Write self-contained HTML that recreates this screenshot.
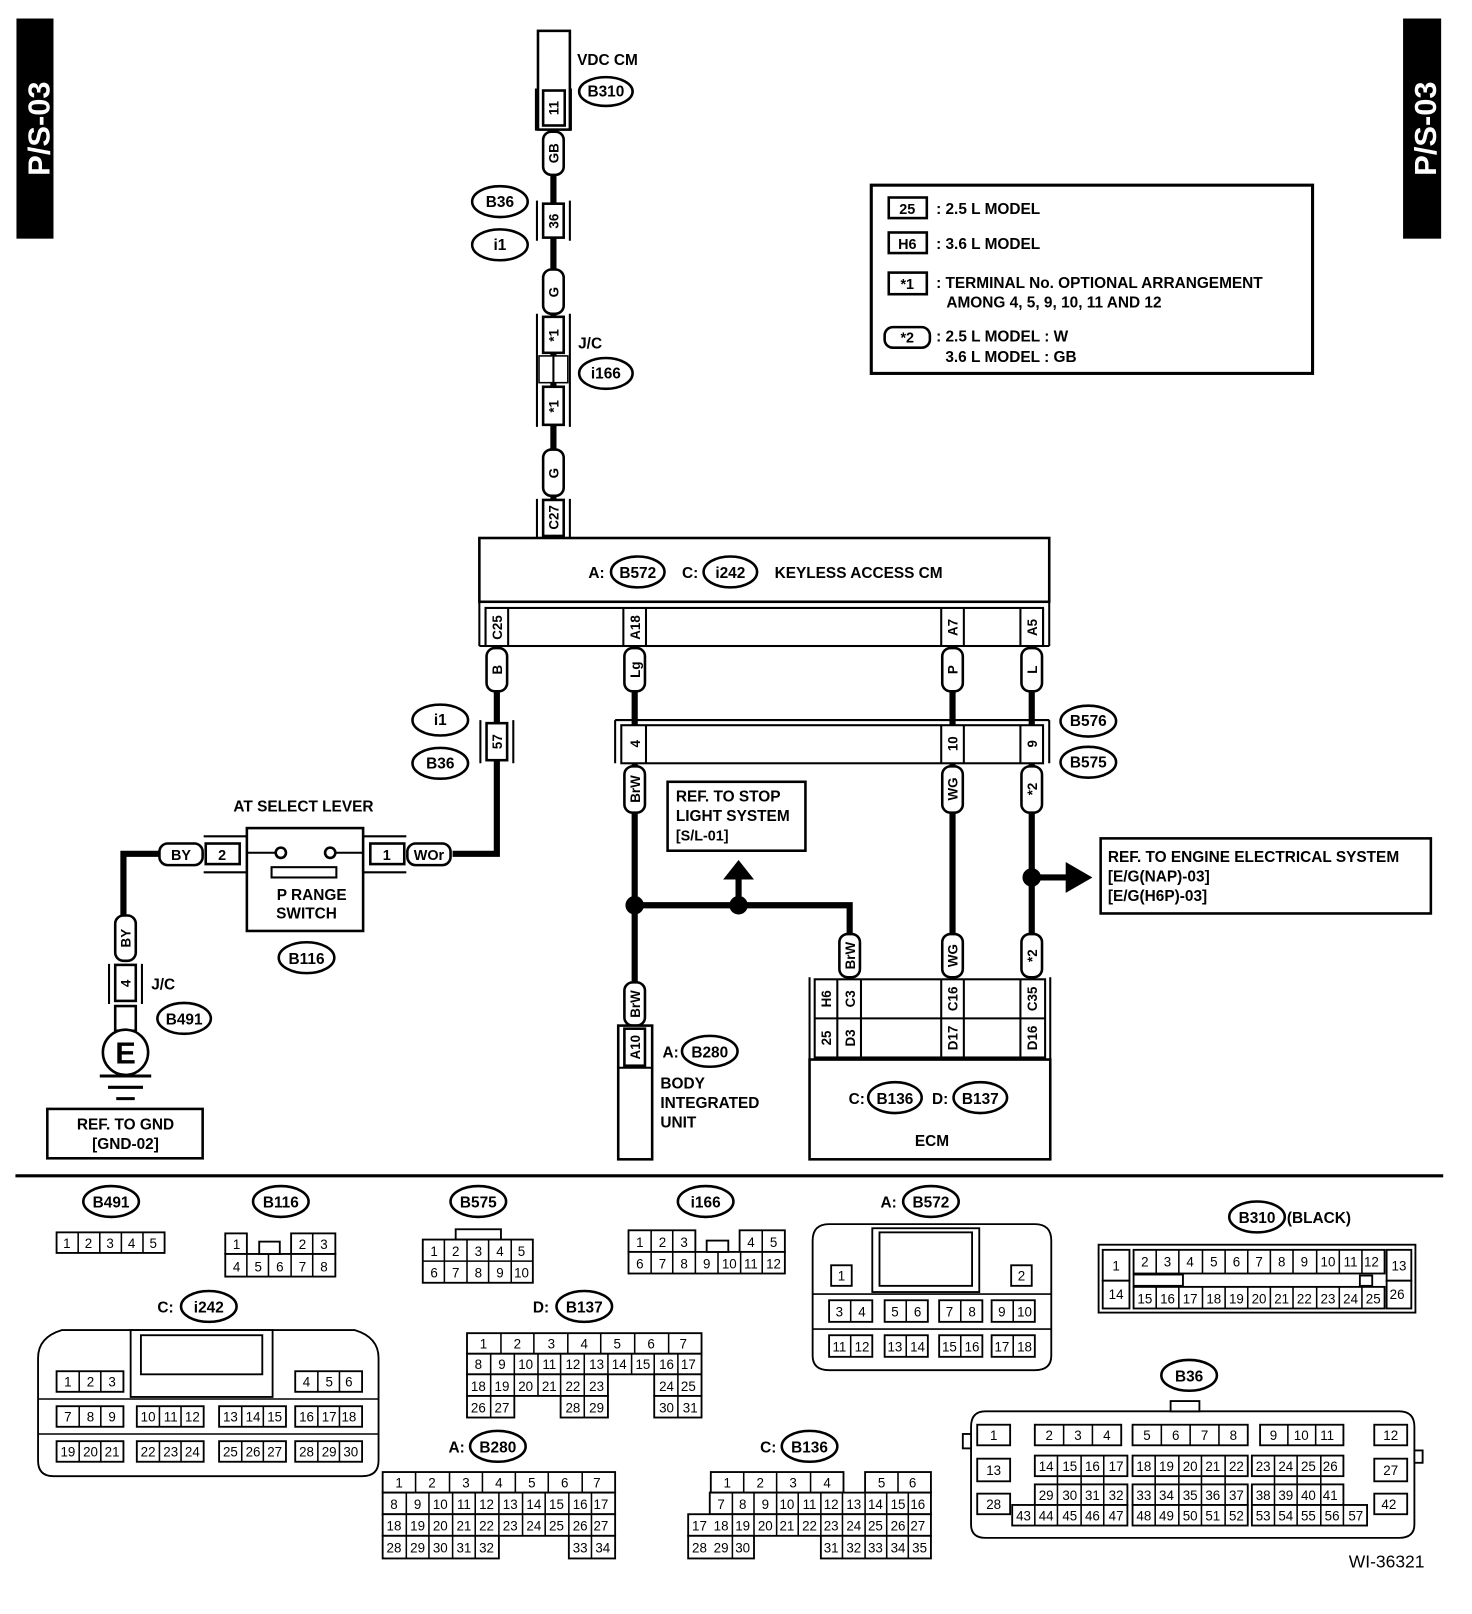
<!DOCTYPE html>
<html><head><meta charset="utf-8"><style>
html,body{margin:0;padding:0;background:#fff}
svg{display:block}
text{font-family:"Liberation Sans",sans-serif;font-weight:bold;fill:#000}
.n{font-family:"Liberation Sans Narrow","Liberation Sans",sans-serif;font-weight:normal;font-size:13px;text-anchor:middle}
.l{font-size:15px}
.c{text-anchor:middle}
.w{stroke:#000;stroke-width:6;fill:none}
.b{stroke:#000;stroke-width:2.5;fill:#fff}
.t{stroke:#000;stroke-width:2;fill:none}
</style></head><body>
<svg width="1472" height="1614" viewBox="0 0 1431 1569" preserveAspectRatio="none" xmlns="http://www.w3.org/2000/svg">
<!-- side bars -->
<rect x="16" y="18" width="36" height="214" fill="#000"/>
<text transform="translate(48,125) rotate(-90)" class="c" style="font-size:30px;fill:#fff">P/S-03</text>
<rect x="1364" y="18" width="37" height="214" fill="#000"/>
<text transform="translate(1396,125) rotate(-90)" class="c" style="font-size:30px;fill:#fff">P/S-03</text>

<!-- main vertical wire -->
<path class="w" d="M538 130V523"/>
<rect class="b" x="523" y="30" width="31" height="96"/>
<path class="t" d="M521 86V127M555 86V127"/>
<rect class="b" x="528" y="88" width="21" height="34"/>
<text transform="translate(538,105) rotate(-90)" class="c" dy="5" style="font-size:13px">11</text>
<text x="561" y="63" class="l">VDC CM</text>
<ellipse class="b" cx="589" cy="89" rx="26" ry="14"/><text x="589" y="94" class="c l">B310</text>
<!-- tags -->
<g class="b"><rect x="528" y="128" width="20" height="42" rx="8"/><rect x="528" y="262" width="20" height="43" rx="8"/><rect x="528" y="437" width="20" height="45" rx="8"/></g>
<text transform="translate(538,149) rotate(-90)" class="c" dy="5" style="font-size:13px">GB</text>
<text transform="translate(538,284) rotate(-90)" class="c" dy="5" style="font-size:13px">G</text>
<text transform="translate(538,460) rotate(-90)" class="c" dy="5" style="font-size:13px">G</text>
<path class="t" d="M522 195V234M554 195V234"/><rect class="b" x="528" y="198" width="20" height="33"/>
<text transform="translate(538,215) rotate(-90)" class="c" dy="5" style="font-size:13px">36</text>
<ellipse class="b" cx="486" cy="196" rx="27" ry="15"/><text x="486" y="201" class="c l">B36</text>
<ellipse class="b" cx="486" cy="238" rx="27" ry="15"/><text x="486" y="243" class="c l">i1</text>
<path class="t" d="M522 305V415M554 305V415"/>
<rect class="b" x="528" y="308" width="20" height="35"/><rect class="b" x="528" y="376" width="20" height="37"/>
<rect class="b" x="524" y="346" width="28" height="26" style="stroke-width:1.5"/><path class="t" d="M538 346V372"/>
<text transform="translate(538,326) rotate(-90)" class="c" dy="5" style="font-size:13px">*1</text>
<text transform="translate(538,395) rotate(-90)" class="c" dy="5" style="font-size:13px">*1</text>
<text x="562" y="339" class="l">J/C</text>
<ellipse class="b" cx="589" cy="363" rx="26" ry="15"/><text x="589" y="368" class="c l">i166</text>
<path class="t" d="M522 485V523M554 485V523"/><rect class="b" x="528" y="486" width="20" height="35"/>
<text transform="translate(538,503) rotate(-90)" class="c" dy="5" style="font-size:13px">C27</text>

<!-- Keyless box -->
<rect class="b" x="466" y="523" width="554" height="62"/>
<text x="572" y="562" class="l">A:</text><ellipse class="b" cx="620" cy="556" rx="26" ry="15"/><text x="620" y="562" class="c l">B572</text>
<text x="663" y="562" class="l">C:</text><ellipse class="b" cx="710" cy="556" rx="26" ry="15"/><text x="710" y="562" class="c l">i242</text>
<text x="753" y="562" class="l">KEYLESS ACCESS CM</text>
<path class="t" d="M466 585V628M1020 585V628M466 628H1020"/>
<rect class="b" x="472" y="591" width="542" height="37" style="stroke-width:2"/>
<path class="t" d="M472 591V628M494 591V628M606 591V628M628 591V628M915 591V628M937 591V628M992 591V628M1014 591V628"/>
<text transform="translate(483,610) rotate(-90)" class="c" dy="5" style="font-size:13px">C25</text>
<text transform="translate(617,610) rotate(-90)" class="c" dy="5" style="font-size:13px">A18</text>
<text transform="translate(926,610) rotate(-90)" class="c" dy="5" style="font-size:13px">A7</text>
<text transform="translate(1003,610) rotate(-90)" class="c" dy="5" style="font-size:13px">A5</text>

<!-- wires under keyless -->
<path class="w" d="M483 672V830H440"/>
<path class="w" d="M617 672V1000"/>
<path class="w" d="M926 672V950"/>
<path class="w" d="M1003 672V950"/>
<path class="w" d="M617 880H826V910"/>
<path class="w" d="M718 880V850"/>
<path d="M703 855L718 836L733 855Z"/>
<path class="w" d="M1003 853H1040"/>
<path d="M1036 838L1062 853L1036 868Z"/>
<circle cx="617" cy="880" r="9"/><circle cx="718" cy="880" r="9"/><circle cx="1003" cy="853" r="9"/>
<g class="b"><rect x="473" y="630" width="20" height="42" rx="8"/><rect x="607" y="630" width="20" height="42" rx="8"/><rect x="916" y="630" width="20" height="42" rx="8"/><rect x="993" y="630" width="20" height="42" rx="8"/>
<rect x="607" y="745" width="20" height="45" rx="8"/><rect x="916" y="745" width="20" height="45" rx="8"/><rect x="993" y="745" width="20" height="45" rx="8"/>
<rect x="816" y="908" width="20" height="42" rx="8"/><rect x="916" y="908" width="20" height="42" rx="8"/><rect x="993" y="908" width="20" height="42" rx="8"/>
<rect x="607" y="955" width="20" height="42" rx="8"/></g>
<g style="font-size:13px">
<text transform="translate(483,651) rotate(-90)" class="c" dy="5">B</text>
<text transform="translate(617,651) rotate(-90)" class="c" dy="5">Lg</text>
<text transform="translate(926,651) rotate(-90)" class="c" dy="5">P</text>
<text transform="translate(1003,651) rotate(-90)" class="c" dy="5">L</text>
<text transform="translate(617,767) rotate(-90)" class="c" dy="5">BrW</text>
<text transform="translate(926,767) rotate(-90)" class="c" dy="5">WG</text>
<text transform="translate(1003,767) rotate(-90)" class="c" dy="5">*2</text>
<text transform="translate(826,929) rotate(-90)" class="c" dy="5">BrW</text>
<text transform="translate(926,929) rotate(-90)" class="c" dy="5">WG</text>
<text transform="translate(1003,929) rotate(-90)" class="c" dy="5">*2</text>
<text transform="translate(617,976) rotate(-90)" class="c" dy="5">BrW</text>
</g>
<!-- 57 connector -->
<path class="t" d="M467 700V742M499 700V742"/><rect class="b" x="473" y="703" width="20" height="36"/>
<text transform="translate(483,721) rotate(-90)" class="c" dy="5" style="font-size:13px">57</text>
<ellipse class="b" cx="428" cy="700" rx="27" ry="15"/><text x="428" y="705" class="c l">i1</text>
<ellipse class="b" cx="428" cy="742" rx="27" ry="15"/><text x="428" y="747" class="c l">B36</text>
<!-- B576/B575 -->
<path class="t" d="M598 700H1020M598 700V742M1020 700V742"/>
<rect class="b" x="604" y="705" width="410" height="37" style="stroke-width:2"/>
<path class="t" d="M628 705V742M915 705V742M937 705V742M992 705V742"/>
<text transform="translate(617,723) rotate(-90)" class="c" dy="5" style="font-size:13px">4</text>
<text transform="translate(926,723) rotate(-90)" class="c" dy="5" style="font-size:13px">10</text>
<text transform="translate(1003,723) rotate(-90)" class="c" dy="5" style="font-size:13px">9</text>
<ellipse class="b" cx="1058" cy="701" rx="27" ry="15"/><text x="1058" y="706" class="c l">B576</text>
<ellipse class="b" cx="1058" cy="741" rx="27" ry="15"/><text x="1058" y="746" class="c l">B575</text>
<!-- ref boxes -->
<rect class="b" x="649" y="760" width="134" height="67"/>
<text x="657" y="779" class="l">REF. TO STOP</text><text x="657" y="798" class="l">LIGHT SYSTEM</text><text x="657" y="817" class="l" style="font-size:14px">[S/L-01]</text>
<rect class="b" x="1070" y="815" width="321" height="73"/>
<text x="1077" y="838" class="l">REF. TO ENGINE ELECTRICAL SYSTEM</text><text x="1077" y="857" class="l">[E/G(NAP)-03]</text><text x="1077" y="876" class="l">[E/G(H6P)-03]</text>
<!-- body integrated unit -->
<rect class="b" x="601" y="997" width="33" height="130"/>
<rect class="b" x="607" y="1000" width="20" height="36"/><path class="t" d="M601 1038H634"/>
<text transform="translate(617,1018) rotate(-90)" class="c" dy="5" style="font-size:13px">A10</text>
<text x="644" y="1028" class="l">A:</text><ellipse class="b" cx="690" cy="1022" rx="27" ry="15"/><text x="690" y="1028" class="c l">B280</text>
<text x="642" y="1058" class="l">BODY</text><text x="642" y="1077" class="l">INTEGRATED</text><text x="642" y="1096" class="l">UNIT</text>
<!-- ECM -->
<rect class="b" x="787" y="1030" width="234" height="97"/>
<path class="t" d="M787 950V1030M1021 950V1030"/>
<rect class="b" x="792" y="952" width="224" height="76" style="stroke-width:2"/>
<path class="t" d="M792 990H1016M814 952V1028M837 952V1028M915 952V1028M937 952V1028M992 952V1028"/>
<g style="font-size:13px">
<text transform="translate(803,971) rotate(-90)" class="c" dy="5">H6</text>
<text transform="translate(826,971) rotate(-90)" class="c" dy="5">C3</text>
<text transform="translate(926,971) rotate(-90)" class="c" dy="5">C16</text>
<text transform="translate(1003,971) rotate(-90)" class="c" dy="5">C35</text>
<text transform="translate(803,1009) rotate(-90)" class="c" dy="5">25</text>
<text transform="translate(826,1009) rotate(-90)" class="c" dy="5">D3</text>
<text transform="translate(926,1009) rotate(-90)" class="c" dy="5">D17</text>
<text transform="translate(1003,1009) rotate(-90)" class="c" dy="5">D16</text>
</g>
<text x="825" y="1073" class="l">C:</text><ellipse class="b" cx="870" cy="1067" rx="26" ry="15"/><text x="870" y="1073" class="c l">B136</text>
<text x="906" y="1073" class="l">D:</text><ellipse class="b" cx="953" cy="1067" rx="26" ry="15"/><text x="953" y="1073" class="c l">B137</text>
<text x="906" y="1114" class="c l">ECM</text>

<!-- left side -->
<text x="295" y="789" class="c l">AT SELECT LEVER</text>
<path class="w" d="M155 830H120V890"/>
<rect class="b" x="240" y="805" width="113" height="100"/>
<path class="t" d="M240 829H268M326 829H353"/>
<circle cx="273" cy="829" r="5" class="b"/><circle cx="321" cy="829" r="5" class="b"/>
<rect class="b" x="264" y="843" width="63" height="10" style="stroke-width:2"/>
<text x="303" y="875" class="c l">P RANGE</text><text x="298" y="893" class="c l">SWITCH</text>
<path class="t" d="M198 813H240M198 848H240M353 813H395M353 848H395"/>
<rect class="b" x="200" y="820" width="33" height="20"/><text x="216" y="836" class="c" style="font-size:14px">2</text>
<rect class="b" x="360" y="820" width="33" height="20"/><text x="376" y="836" class="c" style="font-size:14px">1</text>
<rect class="b" x="155" y="820" width="42" height="21" rx="8"/><text x="176" y="836" class="c" style="font-size:14px">BY</text>
<rect class="b" x="396" y="820" width="42" height="21" rx="8"/><text x="417" y="836" class="c" style="font-size:14px">WOr</text>
<ellipse class="b" cx="298" cy="931" rx="27" ry="15"/><text x="298" y="937" class="c l">B116</text>
<rect class="b" x="112" y="890" width="20" height="44" rx="8"/>
<text transform="translate(122,912) rotate(-90)" class="c" dy="5" style="font-size:13px">BY</text>
<path class="t" d="M106 937V976M138 937V976"/><rect class="b" x="112" y="938" width="20" height="35"/>
<text transform="translate(122,956) rotate(-90)" class="c" dy="5" style="font-size:13px">4</text>
<text x="147" y="962" class="l">J/C</text>
<ellipse class="b" cx="179" cy="990" rx="26" ry="15"/><text x="179" y="996" class="c l">B491</text>
<rect class="b" x="112" y="978" width="20" height="24"/>
<circle class="b" cx="122" cy="1023" r="22"/><text x="122" y="1034" class="c" style="font-size:30px">E</text>
<path d="M97 1046H147M105 1057H139M113 1068H131" stroke="#000" stroke-width="3"/>
<rect class="b" x="46" y="1078" width="151" height="48"/>
<text x="122" y="1098" class="c l">REF. TO GND</text><text x="122" y="1117" class="c l">[GND-02]</text>

<!-- legend -->
<rect class="b" x="847" y="180" width="429" height="183" style="stroke-width:3"/>
<rect class="b" x="864" y="192" width="37" height="20"/><text x="882" y="208" class="c" style="font-size:14px">25</text>
<text x="910" y="208" class="l">: 2.5 L MODEL</text>
<rect class="b" x="864" y="226" width="37" height="20"/><text x="882" y="242" class="c" style="font-size:14px">H6</text>
<text x="910" y="242" class="l">: 3.6 L MODEL</text>
<rect class="b" x="864" y="265" width="37" height="21"/><text x="882" y="281" class="c" style="font-size:14px">*1</text>
<text x="910" y="280" class="l">: TERMINAL No. OPTIONAL ARRANGEMENT</text>
<text x="920" y="299" class="l">AMONG 4, 5, 9, 10, 11 AND 12</text>
<rect class="b" x="860" y="318" width="44" height="20" rx="8"/><text x="882" y="333" class="c" style="font-size:14px">*2</text>
<text x="910" y="332" class="l">: 2.5 L MODEL  : W</text>
<text x="919" y="352" class="l">3.6 L MODEL  : GB</text>

<!-- separator -->
<path d="M15 1143H1403" stroke="#000" stroke-width="3"/>

<!-- ===== bottom connectors ===== -->
<g class="b" style="stroke-width:1.8">
<!-- B491 -->
<rect x="55" y="1198" width="105" height="20"/>
<!-- B116 -->
<rect x="219" y="1199" width="21" height="20"/><rect x="283" y="1199" width="43" height="20"/><rect x="219" y="1219" width="107" height="22"/><rect x="252" y="1207" width="20" height="12"/>
<!-- B575 -->
<rect x="443" y="1195" width="44" height="10"/><rect x="411" y="1205" width="107" height="42"/>
<!-- i166 -->
<rect x="611" y="1196" width="65" height="21"/><rect x="719" y="1196" width="44" height="21"/><rect x="611" y="1217" width="152" height="21"/><rect x="687" y="1206" width="21" height="11"/>
<!-- B572 -->
<path d="M806 1190H1006Q1022 1190 1022 1206V1318Q1022 1332 1006 1332H806Q790 1332 790 1318V1206Q790 1190 806 1190Z"/>
<rect x="848" y="1194" width="104" height="62"/><rect x="855" y="1198" width="90" height="52"/>
<rect x="808" y="1230" width="20" height="20"/><rect x="983" y="1230" width="20" height="20"/>
<rect x="806" y="1264" width="42" height="21"/><rect x="860" y="1264" width="42" height="21"/><rect x="913" y="1264" width="42" height="21"/><rect x="964" y="1264" width="42" height="21"/>
<rect x="806" y="1298" width="42" height="21"/><rect x="860" y="1298" width="42" height="21"/><rect x="913" y="1298" width="42" height="21"/><rect x="964" y="1298" width="42" height="21"/>
<!-- B310 -->
<rect x="1068" y="1210" width="308" height="66"/>
<rect x="1072" y="1215" width="26" height="30"/><rect x="1072" y="1245" width="26" height="27"/>
<rect x="1348" y="1215" width="24" height="30"/><rect x="1348" y="1245" width="24" height="27"/>
<rect x="1102" y="1215" width="244" height="23"/><rect x="1102" y="1251" width="244" height="21"/>
<rect x="1102" y="1239" width="48" height="11"/><rect x="1322" y="1240" width="12" height="10"/>
<!-- i242 -->
<path d="M60 1293H345Q368 1300 368 1320V1420Q368 1435 352 1435H52Q37 1435 37 1420V1320Q37 1300 60 1293Z"/>
<rect x="127" y="1293" width="138" height="65"/><rect x="137" y="1298" width="118" height="38"/>
<rect x="55" y="1333" width="65" height="20"/><rect x="287" y="1333" width="65" height="20"/>
<rect x="55" y="1367" width="65" height="20"/><rect x="133" y="1367" width="65" height="20"/><rect x="213" y="1367" width="65" height="20"/><rect x="287" y="1367" width="65" height="20"/>
<rect x="55" y="1401" width="65" height="20"/><rect x="133" y="1401" width="65" height="20"/><rect x="213" y="1401" width="65" height="20"/><rect x="287" y="1401" width="65" height="20"/>
<!-- B137 -->
<rect x="454" y="1296" width="228" height="20"/><rect x="454" y="1316" width="228" height="20"/>
<rect x="454" y="1336" width="137" height="21"/><rect x="636" y="1336" width="46" height="21"/>
<rect x="454" y="1357" width="46" height="21"/><rect x="545" y="1357" width="46" height="21"/><rect x="636" y="1357" width="46" height="21"/>
<!-- B280 -->
<rect x="372" y="1431" width="226" height="20"/><rect x="372" y="1451" width="226" height="21"/><rect x="372" y="1472" width="226" height="21"/>
<rect x="372" y="1493" width="113" height="22"/><rect x="553" y="1493" width="45" height="22"/>
<!-- B136 -->
<rect x="691" y="1431" width="129" height="20"/><rect x="841" y="1431" width="64" height="20"/>
<rect x="690" y="1451" width="215" height="21"/><rect x="669" y="1472" width="236" height="21"/>
<rect x="669" y="1493" width="64" height="22"/><rect x="798" y="1493" width="107" height="22"/>
<!-- B36 -->
<path d="M958 1372H1360Q1375 1372 1375 1387V1482Q1375 1495 1360 1495H958Q944 1495 944 1482V1387Q944 1372 958 1372Z"/>
<rect x="1138" y="1362" width="28" height="10"/><rect x="936" y="1394" width="8" height="14"/><rect x="1375" y="1410" width="8" height="12"/>
<rect x="950" y="1385" width="32" height="20"/><rect x="950" y="1418" width="32" height="22"/><rect x="950" y="1452" width="32" height="20"/>
<rect x="1336" y="1385" width="32" height="20"/><rect x="1336" y="1418" width="32" height="22"/><rect x="1336" y="1452" width="32" height="20"/>
<rect x="1006" y="1385" width="84" height="20"/><rect x="1101" y="1385" width="112" height="20"/><rect x="1225" y="1385" width="81" height="20"/>
<rect x="1006" y="1415" width="90" height="20"/><rect x="1101" y="1415" width="112" height="20"/><rect x="1217" y="1415" width="89" height="20"/>
<rect x="1006" y="1443" width="90" height="20"/><rect x="1101" y="1443" width="112" height="20"/><rect x="1217" y="1443" width="89" height="20"/>
<rect x="984" y="1463" width="112" height="20"/><rect x="1101" y="1463" width="112" height="20"/><rect x="1217" y="1463" width="112" height="20"/>
</g>
<!-- dividers -->
<path stroke="#000" stroke-width="1.5" fill="none" d="
M76 1198v20M97 1198v20M118 1198v20M139 1198v20
M304 1199v20M240 1219v22M261 1219v22M283 1219v22M304 1219v22
M432 1205v42M454 1205v42M475 1205v42M497 1205v42M411 1226h107
M633 1196v42M654 1196v42M741 1196v21M676 1217v21M698 1217v21M720 1217v21M741 1217v21
M827 1264v21M881 1264v21M934 1264v21M985 1264v21M827 1298v21M881 1298v21M934 1298v21M985 1298v21M790 1258h232M790 1292h232
M1124 1215v23M1146 1215v23M1169 1215v23M1191 1215v23M1213 1215v23M1235 1215v23M1257 1215v23M1280 1215v23M1302 1215v23M1324 1215v23
M1124 1251v21M1146 1251v21M1169 1251v21M1191 1251v21M1213 1251v21M1235 1251v21M1257 1251v21M1280 1251v21M1302 1251v21M1324 1251v21
M37 1360h331M37 1394h331
M77 1333v20M98 1333v20M309 1333v20M330 1333v20
M77 1367v20M98 1367v20M155 1367v20M176 1367v20M235 1367v20M256 1367v20M309 1367v20M330 1367v20
M77 1401v20M98 1401v20M155 1401v20M176 1401v20M235 1401v20M256 1401v20M309 1401v20M330 1401v20
M487 1296v20M519 1296v20M552 1296v20M584 1296v20M617 1296v20M650 1296v20
M477 1316v62M500 1316v41M523 1316v41M545 1316v41M568 1316v62M591 1316v20M614 1316v20M636 1316v20M659 1316v62
M404 1431v20M437 1431v20M469 1431v20M501 1431v20M533 1431v20M566 1431v20
M395 1451v64M417 1451v64M440 1451v64M462 1451v64M485 1451v42M508 1451v42M530 1451v42M553 1451v42M575 1451v64
M723 1431v20M755 1431v20M788 1431v20M873 1431v20
M712 1451v64M733 1451v42M755 1451v42M776 1451v42M798 1451v42M819 1451v64M841 1451v64M862 1451v64M883 1451v64
M1034 1385v20M1062 1385v20M1129 1385v20M1157 1385v20M1185 1385v20M1252 1385v20M1279 1385v20
M1028 1415v48M1051 1415v48M1073 1415v48M1123 1415v68M1146 1415v68M1168 1415v68M1191 1415v68M1239 1415v68M1261 1415v68M1284 1415v68
M1006 1463v20M1028 1463v20M1051 1463v20M1073 1463v20M1306 1463v20"/>

<!-- connector labels -->
<g>
<ellipse class="b" cx="108" cy="1168" rx="27" ry="15"/><text x="108" y="1174" class="c l">B491</text>
<ellipse class="b" cx="273" cy="1168" rx="27" ry="15"/><text x="273" y="1174" class="c l">B116</text>
<ellipse class="b" cx="465" cy="1168" rx="27" ry="15"/><text x="465" y="1174" class="c l">B575</text>
<ellipse class="b" cx="686" cy="1168" rx="27" ry="15"/><text x="686" y="1174" class="c l">i166</text>
<text x="856" y="1174" class="l">A:</text><ellipse class="b" cx="905" cy="1168" rx="27" ry="15"/><text x="905" y="1174" class="c l">B572</text>
<ellipse class="b" cx="1222" cy="1183" rx="27" ry="15"/><text x="1222" y="1189" class="c l">B310</text><text x="1251" y="1189" class="l">(BLACK)</text>
<text x="153" y="1276" class="l">C:</text><ellipse class="b" cx="203" cy="1270" rx="27" ry="15"/><text x="203" y="1276" class="c l">i242</text>
<text x="518" y="1276" class="l">D:</text><ellipse class="b" cx="568" cy="1270" rx="27" ry="15"/><text x="568" y="1276" class="c l">B137</text>
<text x="436" y="1412" class="l">A:</text><ellipse class="b" cx="484" cy="1406" rx="27" ry="15"/><text x="484" y="1412" class="c l">B280</text>
<text x="739" y="1412" class="l">C:</text><ellipse class="b" cx="787" cy="1406" rx="27" ry="15"/><text x="787" y="1412" class="c l">B136</text>
<ellipse class="b" cx="1156" cy="1337" rx="27" ry="15"/><text x="1156" y="1343" class="c l">B36</text>
<text x="1348" y="1524" class="c" style="font-size:17px;font-weight:normal">WI-36321</text>
</g>

<!-- cell numbers -->
<text class="n"><tspan x="65" y="1213">1</tspan><tspan x="86" y="1213">2</tspan><tspan x="107" y="1213">3</tspan><tspan x="128" y="1213">4</tspan><tspan x="149" y="1213">5</tspan></text>
<text class="n"><tspan x="230" y="1214">1</tspan><tspan x="294" y="1214">2</tspan><tspan x="315" y="1214">3</tspan><tspan x="230" y="1236">4</tspan><tspan x="251" y="1236">5</tspan><tspan x="272" y="1236">6</tspan><tspan x="294" y="1236">7</tspan><tspan x="315" y="1236">8</tspan></text>
<text class="n"><tspan x="422" y="1221">1</tspan><tspan x="443" y="1221">2</tspan><tspan x="465" y="1221">3</tspan><tspan x="486" y="1221">4</tspan><tspan x="507" y="1221">5</tspan><tspan x="422" y="1242">6</tspan><tspan x="443" y="1242">7</tspan><tspan x="465" y="1242">8</tspan><tspan x="486" y="1242">9</tspan><tspan x="507" y="1242">10</tspan></text>
<text class="n"><tspan x="622" y="1212">1</tspan><tspan x="644" y="1212">2</tspan><tspan x="665" y="1212">3</tspan><tspan x="730" y="1212">4</tspan><tspan x="752" y="1212">5</tspan><tspan x="622" y="1233">6</tspan><tspan x="644" y="1233">7</tspan><tspan x="665" y="1233">8</tspan><tspan x="687" y="1233">9</tspan><tspan x="709" y="1233">10</tspan><tspan x="730" y="1233">11</tspan><tspan x="752" y="1233">12</tspan></text>
<text class="n"><tspan x="818" y="1245">1</tspan><tspan x="993" y="1245">2</tspan><tspan x="816" y="1280">3</tspan><tspan x="838" y="1280">4</tspan><tspan x="870" y="1280">5</tspan><tspan x="892" y="1280">6</tspan><tspan x="923" y="1280">7</tspan><tspan x="945" y="1280">8</tspan><tspan x="974" y="1280">9</tspan><tspan x="996" y="1280">10</tspan><tspan x="816" y="1314">11</tspan><tspan x="838" y="1314">12</tspan><tspan x="870" y="1314">13</tspan><tspan x="892" y="1314">14</tspan><tspan x="923" y="1314">15</tspan><tspan x="945" y="1314">16</tspan><tspan x="974" y="1314">17</tspan><tspan x="996" y="1314">18</tspan></text>
<text class="n"><tspan x="1085" y="1235">1</tspan><tspan x="1085" y="1263">14</tspan><tspan x="1360" y="1235">13</tspan><tspan x="1360" y="1263">26</tspan>
<tspan x="1113" y="1231">2</tspan><tspan x="1135" y="1231">3</tspan><tspan x="1157" y="1231">4</tspan><tspan x="1180" y="1231">5</tspan><tspan x="1202" y="1231">6</tspan><tspan x="1224" y="1231">7</tspan><tspan x="1246" y="1231">8</tspan><tspan x="1268" y="1231">9</tspan><tspan x="1291" y="1231">10</tspan><tspan x="1313" y="1231">11</tspan><tspan x="1335" y="1231">12</tspan>
<tspan x="1113" y="1267">15</tspan><tspan x="1135" y="1267">16</tspan><tspan x="1157" y="1267">17</tspan><tspan x="1180" y="1267">18</tspan><tspan x="1202" y="1267">19</tspan><tspan x="1224" y="1267">20</tspan><tspan x="1246" y="1267">21</tspan><tspan x="1268" y="1267">22</tspan><tspan x="1291" y="1267">23</tspan><tspan x="1313" y="1267">24</tspan><tspan x="1335" y="1267">25</tspan></text>
<text class="n"><tspan x="66" y="1348">1</tspan><tspan x="88" y="1348">2</tspan><tspan x="109" y="1348">3</tspan><tspan x="298" y="1348">4</tspan><tspan x="320" y="1348">5</tspan><tspan x="341" y="1348">6</tspan>
<tspan x="66" y="1382">7</tspan><tspan x="88" y="1382">8</tspan><tspan x="109" y="1382">9</tspan><tspan x="144" y="1382">10</tspan><tspan x="166" y="1382">11</tspan><tspan x="187" y="1382">12</tspan><tspan x="224" y="1382">13</tspan><tspan x="246" y="1382">14</tspan><tspan x="267" y="1382">15</tspan><tspan x="298" y="1382">16</tspan><tspan x="320" y="1382">17</tspan><tspan x="341" y="1382">18</tspan>
<tspan x="66" y="1416">19</tspan><tspan x="88" y="1416">20</tspan><tspan x="109" y="1416">21</tspan><tspan x="144" y="1416">22</tspan><tspan x="166" y="1416">23</tspan><tspan x="187" y="1416">24</tspan><tspan x="224" y="1416">25</tspan><tspan x="246" y="1416">26</tspan><tspan x="267" y="1416">27</tspan><tspan x="298" y="1416">28</tspan><tspan x="320" y="1416">29</tspan><tspan x="341" y="1416">30</tspan></text>
<text class="n"><tspan x="470" y="1311">1</tspan><tspan x="503" y="1311">2</tspan><tspan x="536" y="1311">3</tspan><tspan x="568" y="1311">4</tspan><tspan x="600" y="1311">5</tspan><tspan x="633" y="1311">6</tspan><tspan x="666" y="1311">7</tspan>
<tspan x="465" y="1331">8</tspan><tspan x="488" y="1331">9</tspan><tspan x="511" y="1331">10</tspan><tspan x="534" y="1331">11</tspan><tspan x="557" y="1331">12</tspan><tspan x="580" y="1331">13</tspan><tspan x="602" y="1331">14</tspan><tspan x="625" y="1331">15</tspan><tspan x="648" y="1331">16</tspan><tspan x="671" y="1331">17</tspan>
<tspan x="465" y="1352">18</tspan><tspan x="488" y="1352">19</tspan><tspan x="511" y="1352">20</tspan><tspan x="534" y="1352">21</tspan><tspan x="557" y="1352">22</tspan><tspan x="580" y="1352">23</tspan><tspan x="648" y="1352">24</tspan><tspan x="671" y="1352">25</tspan>
<tspan x="465" y="1373">26</tspan><tspan x="488" y="1373">27</tspan><tspan x="557" y="1373">28</tspan><tspan x="580" y="1373">29</tspan><tspan x="648" y="1373">30</tspan><tspan x="671" y="1373">31</tspan></text>
<text class="n"><tspan x="388" y="1446">1</tspan><tspan x="420" y="1446">2</tspan><tspan x="453" y="1446">3</tspan><tspan x="485" y="1446">4</tspan><tspan x="517" y="1446">5</tspan><tspan x="549" y="1446">6</tspan><tspan x="582" y="1446">7</tspan>
<tspan x="383" y="1467">8</tspan><tspan x="406" y="1467">9</tspan><tspan x="428" y="1467">10</tspan><tspan x="451" y="1467">11</tspan><tspan x="473" y="1467">12</tspan><tspan x="496" y="1467">13</tspan><tspan x="519" y="1467">14</tspan><tspan x="541" y="1467">15</tspan><tspan x="564" y="1467">16</tspan><tspan x="586" y="1467">17</tspan>
<tspan x="383" y="1488">18</tspan><tspan x="406" y="1488">19</tspan><tspan x="428" y="1488">20</tspan><tspan x="451" y="1488">21</tspan><tspan x="473" y="1488">22</tspan><tspan x="496" y="1488">23</tspan><tspan x="519" y="1488">24</tspan><tspan x="541" y="1488">25</tspan><tspan x="564" y="1488">26</tspan><tspan x="586" y="1488">27</tspan>
<tspan x="383" y="1509">28</tspan><tspan x="406" y="1509">29</tspan><tspan x="428" y="1509">30</tspan><tspan x="451" y="1509">31</tspan><tspan x="473" y="1509">32</tspan><tspan x="564" y="1509">33</tspan><tspan x="586" y="1509">34</tspan></text>
<text class="n"><tspan x="707" y="1446">1</tspan><tspan x="739" y="1446">2</tspan><tspan x="771" y="1446">3</tspan><tspan x="804" y="1446">4</tspan><tspan x="857" y="1446">5</tspan><tspan x="889" y="1446">6</tspan>
<tspan x="701" y="1467">7</tspan><tspan x="722" y="1467">8</tspan><tspan x="744" y="1467">9</tspan><tspan x="765" y="1467">10</tspan><tspan x="787" y="1467">11</tspan><tspan x="808" y="1467">12</tspan><tspan x="830" y="1467">13</tspan><tspan x="851" y="1467">14</tspan><tspan x="873" y="1467">15</tspan><tspan x="894" y="1467">16</tspan>
<tspan x="680" y="1488">17</tspan><tspan x="701" y="1488">18</tspan><tspan x="722" y="1488">19</tspan><tspan x="744" y="1488">20</tspan><tspan x="765" y="1488">21</tspan><tspan x="787" y="1488">22</tspan><tspan x="808" y="1488">23</tspan><tspan x="830" y="1488">24</tspan><tspan x="851" y="1488">25</tspan><tspan x="873" y="1488">26</tspan><tspan x="894" y="1488">27</tspan>
<tspan x="680" y="1509">28</tspan><tspan x="701" y="1509">29</tspan><tspan x="722" y="1509">30</tspan><tspan x="808" y="1509">31</tspan><tspan x="830" y="1509">32</tspan><tspan x="851" y="1509">33</tspan><tspan x="873" y="1509">34</tspan><tspan x="894" y="1509">35</tspan></text>
<text class="n"><tspan x="966" y="1400">1</tspan><tspan x="966" y="1434">13</tspan><tspan x="966" y="1467">28</tspan><tspan x="1352" y="1400">12</tspan><tspan x="1352" y="1434">27</tspan><tspan x="1352" y="1467">42</tspan>
<tspan x="1020" y="1400">2</tspan><tspan x="1048" y="1400">3</tspan><tspan x="1076" y="1400">4</tspan><tspan x="1115" y="1400">5</tspan><tspan x="1143" y="1400">6</tspan><tspan x="1171" y="1400">7</tspan><tspan x="1199" y="1400">8</tspan><tspan x="1238" y="1400">9</tspan><tspan x="1265" y="1400">10</tspan><tspan x="1292" y="1400">11</tspan>
<tspan x="1017" y="1430">14</tspan><tspan x="1040" y="1430">15</tspan><tspan x="1062" y="1430">16</tspan><tspan x="1085" y="1430">17</tspan><tspan x="1112" y="1430">18</tspan><tspan x="1134" y="1430">19</tspan><tspan x="1157" y="1430">20</tspan><tspan x="1179" y="1430">21</tspan><tspan x="1202" y="1430">22</tspan><tspan x="1228" y="1430">23</tspan><tspan x="1250" y="1430">24</tspan><tspan x="1272" y="1430">25</tspan><tspan x="1295" y="1430">26</tspan>
<tspan x="1017" y="1458">29</tspan><tspan x="1040" y="1458">30</tspan><tspan x="1062" y="1458">31</tspan><tspan x="1085" y="1458">32</tspan><tspan x="1112" y="1458">33</tspan><tspan x="1134" y="1458">34</tspan><tspan x="1157" y="1458">35</tspan><tspan x="1179" y="1458">36</tspan><tspan x="1202" y="1458">37</tspan><tspan x="1228" y="1458">38</tspan><tspan x="1250" y="1458">39</tspan><tspan x="1272" y="1458">40</tspan><tspan x="1295" y="1458">41</tspan>
<tspan x="995" y="1478">43</tspan><tspan x="1017" y="1478">44</tspan><tspan x="1040" y="1478">45</tspan><tspan x="1062" y="1478">46</tspan><tspan x="1085" y="1478">47</tspan><tspan x="1112" y="1478">48</tspan><tspan x="1134" y="1478">49</tspan><tspan x="1157" y="1478">50</tspan><tspan x="1179" y="1478">51</tspan><tspan x="1202" y="1478">52</tspan><tspan x="1228" y="1478">53</tspan><tspan x="1250" y="1478">54</tspan><tspan x="1272" y="1478">55</tspan><tspan x="1295" y="1478">56</tspan><tspan x="1318" y="1478">57</tspan></text>
</svg>
</body></html>
